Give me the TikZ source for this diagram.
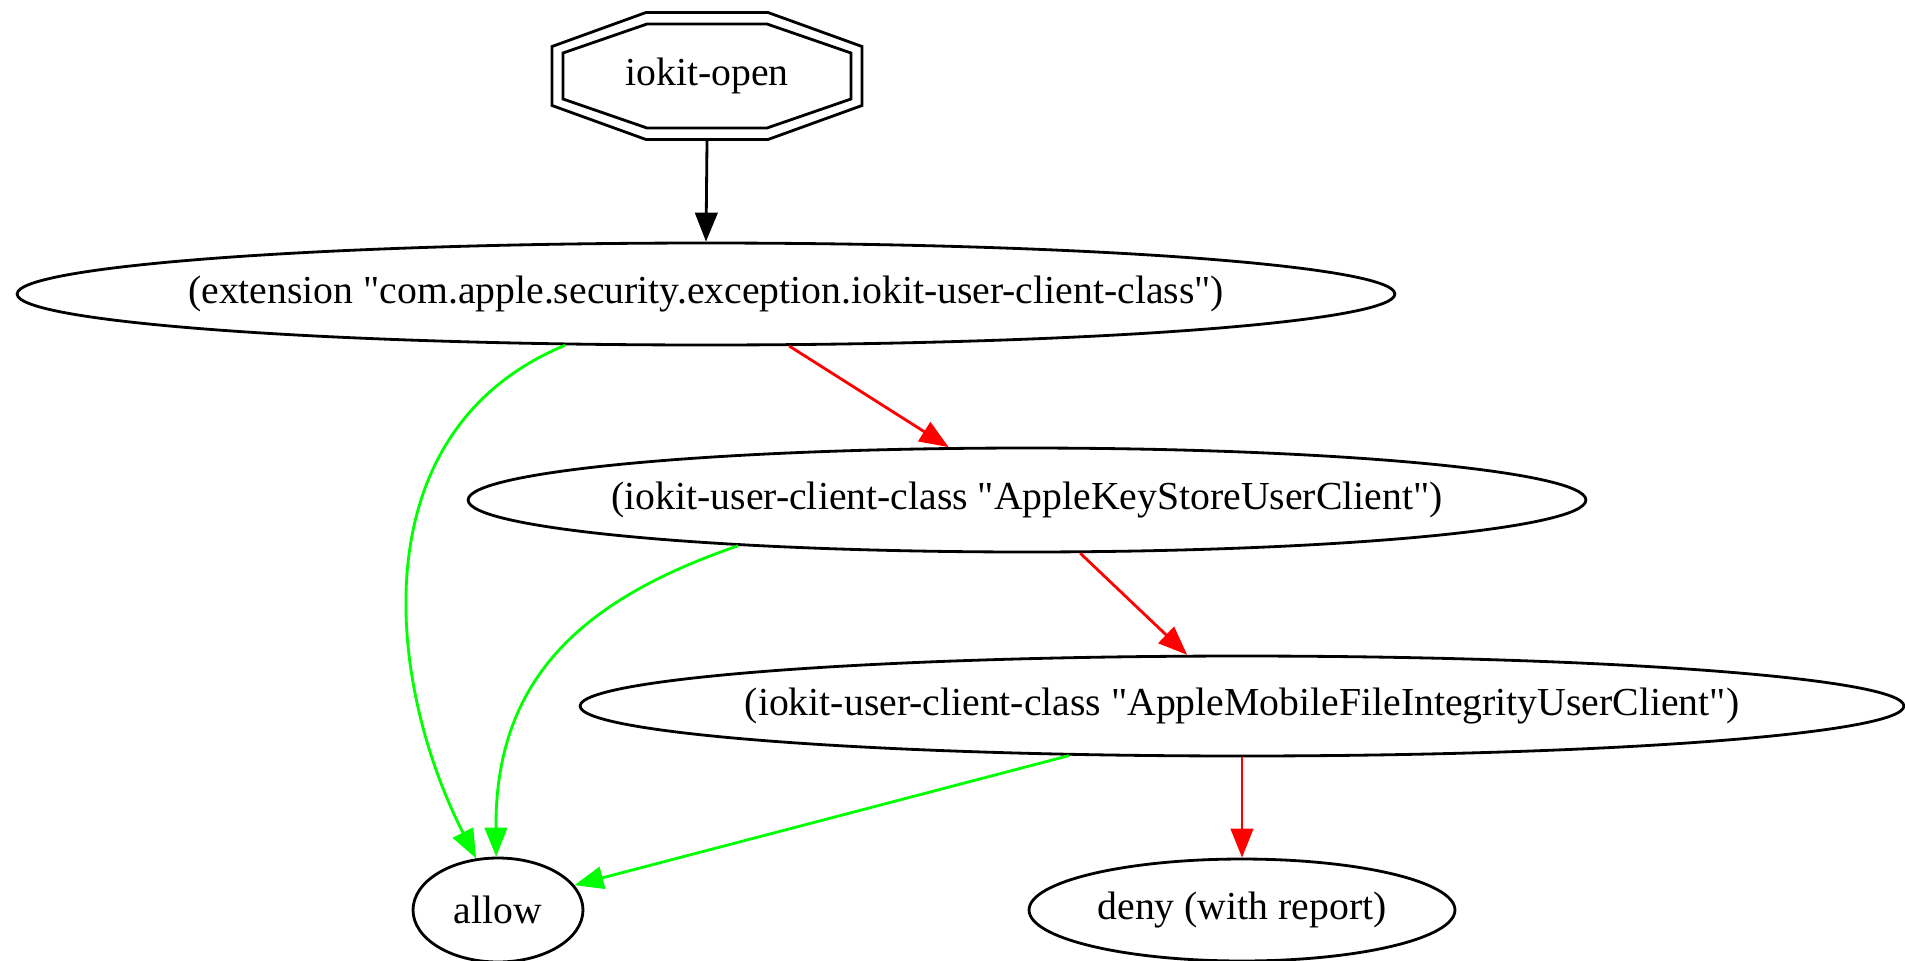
\documentclass[tikz,border=0pt]{standalone}
\usepackage{fontspec}
\setmainfont{Liberation Serif}[Ligatures=TeXOff]
\usetikzlibrary{shapes.geometric, arrows.meta}

\begin{document}
\begin{tikzpicture}[
        x=0.02cm, y=-0.02cm,
        font=\fontsize{22.6}{27}\selectfont,
        line width=1.6pt,
        test/.style={ellipse, draw, inner sep=0pt, minimum height=2.04cm},
        arc/.style={-{Triangle[length=0.58cm, width=0.45cm]}},
        yes/.style={arc, green},
        no/.style={arc, red}
    ]
    \useasboundingbox (0,0) rectangle (1905,960);

    \node[minimum width=6.2cm, minimum height=2.54cm] (open) at (707,76) {iokit-open};
    \draw[shift={(open.center)}] (-61,-63.5) -- (61,-63.5) -- (155,-29.5) -- (155,29.5) -- (61,63.5) -- (-61,63.5) -- (-155,29.5) -- (-155,-29.5) -- cycle;
    \draw[shift={(open.center)}] (-60,-52) -- (60,-52) -- (144,-23) -- (144,23) -- (60,52) -- (-60,52) -- (-144,23) -- (-144,-23) -- cycle;

    \node[test, minimum width=27.56cm, label=center:{(extension "com.apple.security.exception.iokit-user-client-class")}] (ext) at (706,294) {};
    \node[test, minimum width=22.36cm, minimum height=2.08cm, label=center:{(iokit-user-client-class "AppleKeyStoreUserClient")}] (keystore) at (1027,500) {};
    \node[test, minimum width=26.48cm, minimum height=2cm, label=center:{(iokit-user-client-class "AppleMobileFileIntegrityUserClient")}] (amfi) at (1242,706) {};
    \node[test, minimum width=3.4cm, minimum height=2.08cm] (allow) at (498,910) {allow};
    \node[test, minimum width=8.52cm] (deny) at (1242,910) {deny (with report)};

    \draw[arc] (open.south) -- (ext.north);
    \draw[no] (ext.-32) -- (keystore.146);
    \draw[no] (keystore.-45) -- (amfi.137);
    \draw[no] (amfi.south) -- (deny.north);
    \draw[yes] (ext.-160.5) .. controls (360,430) and (385,680) .. (allow.113);
    \draw[yes] (keystore.-171.4) .. controls (580,600) and (495,680) .. (allow.92);
    \draw[yes] (amfi.-164.7) -- (allow.18);
\end{tikzpicture}
\end{document}
